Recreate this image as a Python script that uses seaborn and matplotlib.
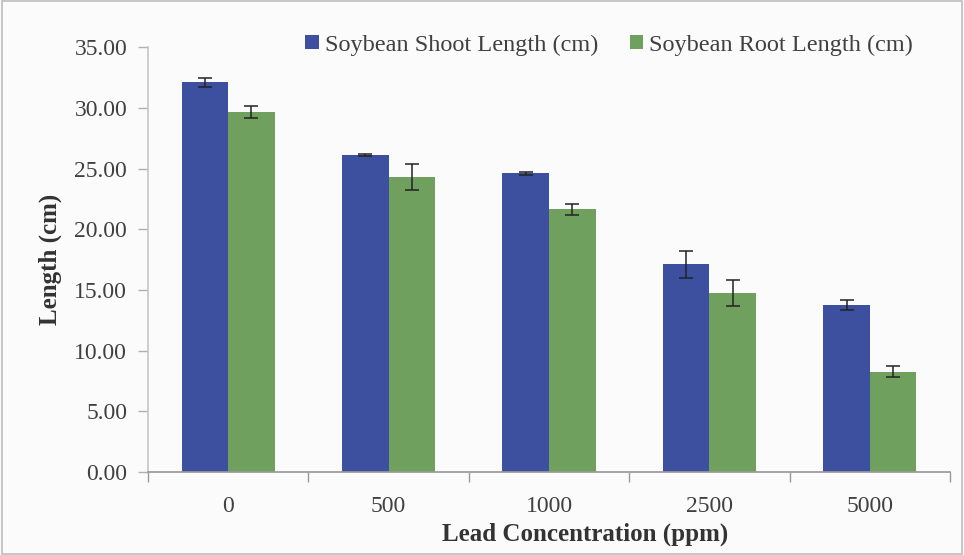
import pandas as pd
import numpy as np
import seaborn as sns
from matplotlib import pyplot as plt
from matplotlib.ticker import FormatStrFormatter, FixedLocator

concentrations = ['0', '500', '1000', '2500', '5000']
shoot_len = [32.10, 26.10, 24.60, 17.10, 13.75]
shoot_err = [0.35, 0.10, 0.10, 1.10, 0.40]
root_len = [29.65, 24.30, 21.65, 14.75, 8.25]
root_err = [0.50, 1.10, 0.45, 1.05, 0.45]
series_names = ['Soybean Shoot Length (cm)', 'Soybean Root Length (cm)']

sns.set_theme(style='white')
plt.rcParams['font.family'] = ['Liberation Serif', 'DejaVu Serif']

df = pd.DataFrame({
    'conc': concentrations * 2,
    'length': shoot_len + root_len,
    'series': [series_names[0]] * 5 + [series_names[1]] * 5,
})
errs = {series_names[0]: shoot_err, series_names[1]: root_err}

fig = plt.figure(figsize=(9.64, 5.55), dpi=100, facecolor='#fbfbfb')
ax = fig.add_axes([0.1535, 0.1495, 0.832, 0.7655])
ax.set_facecolor('#fbfbfb')

sns.barplot(data=df, x='conc', y='length', hue='series', order=concentrations,
            palette=['#3d4f9f', '#70a05e'], width=0.58, gap=0,
            errorbar=None, saturation=1, linewidth=0, ax=ax)

# error bars on the dodged bars
for cont, name in zip(ax.containers, series_names):
    xs = [p.get_x() + p.get_width() / 2 for p in cont.patches]
    ys = [p.get_height() for p in cont.patches]
    ax.errorbar(xs, ys, yerr=errs[name], fmt='none', ecolor='#222222',
                elinewidth=1.1, capsize=5, capthick=1.1)

ax.set_ylim(0, 35)
ax.set_xlim(-0.5, 4.5)
ax.set_yticks(np.arange(0, 35.01, 5))
ax.yaxis.set_major_formatter(FormatStrFormatter('%.2f'))
ax.xaxis.set_major_locator(FixedLocator(np.arange(-0.5, 4.6, 1)))
ax.xaxis.set_minor_locator(FixedLocator(range(5)))
ax.set_xticklabels([])
ax.set_xticklabels(concentrations, minor=True)
ax.tick_params(axis='x', which='major', length=7, width=1, color='#9a9a9a', direction='out', bottom=True)
ax.tick_params(axis='x', which='minor', length=0, labelsize=17, labelcolor='#404040', pad=17)
ax.tick_params(axis='y', length=7, width=1, color='#b0b0b0', direction='out', left=True,
               labelsize=17, labelcolor='#404040', pad=8)

for s in ['top', 'right']:
    ax.spines[s].set_visible(False)
ax.spines['left'].set_color('#c8c8c8')
ax.spines['bottom'].set_color('#9a9a9a')

ax.set_xlabel('Lead Concentration (ppm)', fontsize=18, fontweight='bold', color='#333333')
ax.xaxis.set_label_coords(0.545, -0.118)
ax.set_ylabel('Length (cm)', fontsize=18, fontweight='bold', color='#333333', labelpad=9)

ax.legend(loc='center', bbox_to_anchor=(0.632, 0.919), bbox_transform=fig.transFigure,
          ncol=2, frameon=False, fontsize=17.5, handlelength=0.55, handleheight=0.55,
          handletextpad=0.25, columnspacing=1.3, labelcolor='#404040')

fig.patches.append(plt.Rectangle((0.002, 0.002), 0.996, 0.996, transform=fig.transFigure,
                                 fill=False, edgecolor='#bdbdbd', linewidth=1.2))

fig.savefig('out.png', dpi=100, facecolor=fig.get_facecolor())
